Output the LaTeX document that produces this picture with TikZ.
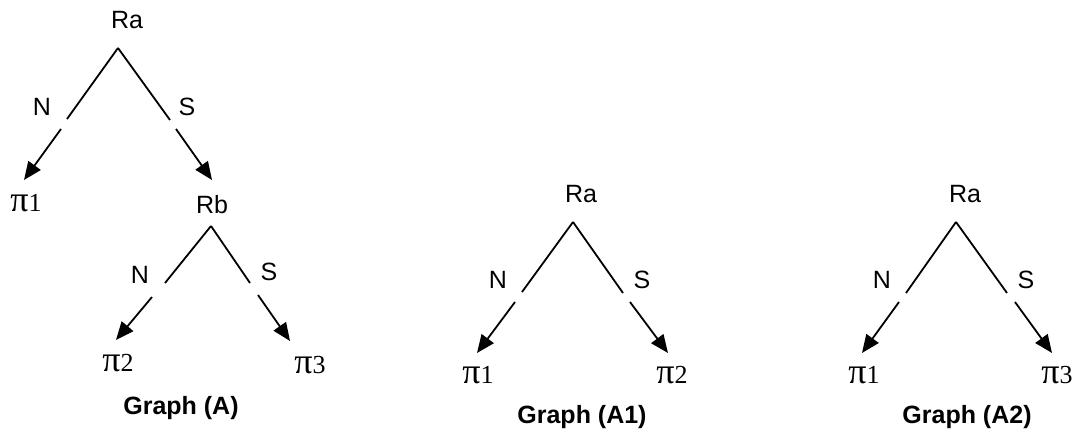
\documentclass[tikz,border=0pt]{standalone}
\usepackage{fontspec}
\setmainfont{Liberation Sans}
\newfontfamily\pifont{Liberation Serif}
\usetikzlibrary{arrows.meta}
\tikzset{
  lbl/.style={font=\fontsize{25}{28}\selectfont, inner sep=0pt},
  ttl/.style={font=\fontsize{25}{28}\selectfont\bfseries, inner sep=0pt},
  leaf/.style={inner sep=0pt},
  edge/.style={line width=1.8pt},
  arr/.style={line width=1.8pt, -{Triangle[length=18pt,width=15pt]}},
}
\newcommand{\pil}[1]{{\pifont\fontsize{36}{38}\selectfont π\fontsize{26}{28}\selectfont #1}}
\begin{document}
\begin{tikzpicture}[x=1pt,y=-1pt]
\useasboundingbox (0,0) rectangle (1078,439);
% ---------- Graph (A)
\node[lbl] (ra) at (127,20) {Ra};
\coordinate (raApex) at (118,48);
\coordinate (raN1) at (67,119);
\coordinate (raN2) at (61,129);
\coordinate (raNt) at (24,180);
\coordinate (raS1) at (170,120);
\coordinate (raS2) at (176,129);
\coordinate (raSt) at (212,180);
\node[lbl] (raN) at (42,107) {N};
\node[lbl] (raS) at (187,107) {S};
\node[leaf] (p1) at (26,203) {\pil{1}};
\node[lbl] (rb) at (212,205) {Rb};
\draw[edge] (raApex) -- (raN1);
\draw[arr] (raN2) -- (raNt);
\draw[edge] (raApex) -- (raS1);
\draw[arr] (raS2) -- (raSt);
\coordinate (rbApex) at (211,226);
\coordinate (rbN1) at (165,283);
\coordinate (rbN2) at (152,297);
\coordinate (rbNt) at (116,340);
\coordinate (rbS1) at (250,283);
\coordinate (rbS2) at (258,295);
\coordinate (rbSt) at (290,341);
\node[lbl] (rbN) at (140,275) {N};
\node[lbl] (rbS) at (269,272) {S};
\node[leaf] (p2) at (118,363) {\pil{2}};
\node[leaf] (p3) at (310,365) {\pil{3}};
\draw[edge] (rbApex) -- (rbN1);
\draw[arr] (rbN2) -- (rbNt);
\draw[edge] (rbApex) -- (rbS1);
\draw[arr] (rbS2) -- (rbSt);
\node[ttl] (tA) at (181,408) {Graph (A)};
% ---------- Graph (A1)
\node[lbl] (ra1) at (581,194) {Ra};
\coordinate (a1Apex) at (573,222);
\coordinate (a1N1) at (522,292);
\coordinate (a1N2) at (515,302);
\coordinate (a1Nt) at (477,353);
\coordinate (a1S1) at (623,293);
\coordinate (a1S2) at (630,302);
\coordinate (a1St) at (668,353);
\node[lbl] (a1N) at (498,280) {N};
\node[lbl] (a1S) at (642,280) {S};
\node[leaf] (a1p1) at (478,375) {\pil{1}};
\node[leaf] (a1p2) at (672,375) {\pil{2}};
\draw[edge] (a1Apex) -- (a1N1);
\draw[arr] (a1N2) -- (a1Nt);
\draw[edge] (a1Apex) -- (a1S1);
\draw[arr] (a1S2) -- (a1St);
\node[ttl] (tA1) at (582,417) {Graph (A1)};
% ---------- Graph (A2)
\node[lbl] (ra2) at (965,194) {Ra};
\coordinate (a2Apex) at (956,222);
\coordinate (a2N1) at (906,293);
\coordinate (a2N2) at (899,302);
\coordinate (a2Nt) at (862,353);
\coordinate (a2S1) at (1007,293);
\coordinate (a2S2) at (1015,302);
\coordinate (a2St) at (1052,353);
\node[lbl] (a2N) at (882,280) {N};
\node[lbl] (a2S) at (1026,280) {S};
\node[leaf] (a2p1) at (864,375) {\pil{1}};
\node[leaf] (a2p3) at (1057,375) {\pil{3}};
\draw[edge] (a2Apex) -- (a2N1);
\draw[arr] (a2N2) -- (a2Nt);
\draw[edge] (a2Apex) -- (a2S1);
\draw[arr] (a2S2) -- (a2St);
\node[ttl] (tA2) at (967,417) {Graph (A2)};
\end{tikzpicture}
\end{document}
